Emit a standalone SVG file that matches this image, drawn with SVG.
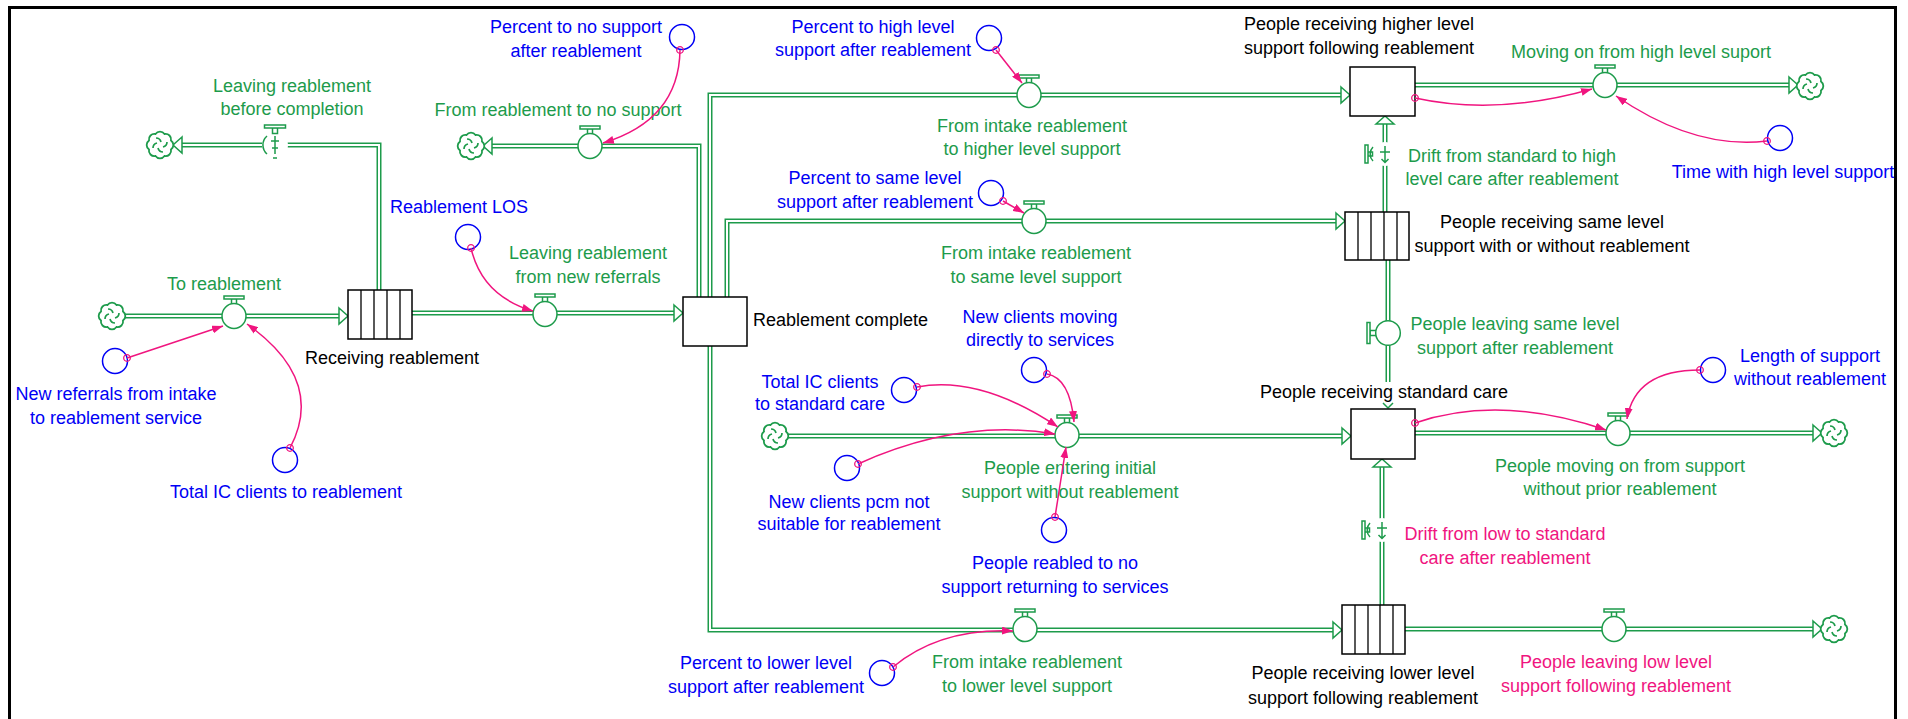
<svg xmlns="http://www.w3.org/2000/svg" xmlns:xlink="http://www.w3.org/1999/xlink" width="1908" height="719" viewBox="0 0 1908 719">
<style>
text{font-family:"Liberation Sans",Arial,sans-serif;font-size:18px;text-anchor:middle}
.tg{fill:#1d9b4b}.tb{fill:#0000f5}.tp{fill:#f0157f}.tk{fill:#000}
.po{fill:none;stroke:#1d9b4b;stroke-width:5}
.pi{fill:none;stroke:#fff;stroke-width:2}
.ah{fill:#fff;stroke:#1d9b4b;stroke-width:1.5;stroke-linejoin:miter}
.vf{fill:#fff;stroke:#1d9b4b;stroke-width:1.5}
.ln{fill:none;stroke:#1d9b4b;stroke-width:1.5}
.stk{fill:#fff;stroke:#000;stroke-width:1.5}
.aux{fill:none;stroke:#0000f5;stroke-width:1.5}
.lk{fill:none;stroke:#f0157f;stroke-width:1.5;marker-start:url(#dot);marker-end:url(#ah)}
</style>
<defs>
<marker id="ah" viewBox="0 0 11 8" refX="11" refY="4" markerWidth="11" markerHeight="8" markerUnits="userSpaceOnUse" orient="auto"><path d="M0,0 L11,4 L0,8 Z" fill="#f0157f"/></marker>
<marker id="dot" viewBox="-5 -5 10 10" refX="0" refY="0" markerWidth="10" markerHeight="10" markerUnits="userSpaceOnUse"><circle r="3.3" fill="none" stroke="#f0157f" stroke-width="1.3"/></marker>
<g id="vH"><rect x="-2.5" y="-17.5" width="5" height="6" class="vf"/><rect x="-10" y="-20" width="20" height="3" class="vf"/><ellipse rx="12" ry="12.5" class="vf"/></g>
<g id="vV"><rect x="-18" y="-2.5" width="7" height="5" class="vf"/><rect x="-21" y="-10.5" width="3" height="21" class="vf"/><circle r="12.3" class="vf"/></g>
<g id="dH"><circle r="13" fill="#fff"/><rect x="-2.5" y="-17.5" width="5" height="6" class="vf"/><rect x="-10.5" y="-20" width="21" height="3" class="vf"/><path d="M-8,-9 A12,12 0 0 0 -8,9" class="ln"/><path d="M0,-9 V9 M-4,-4 H4 M-3,3 H3 M-2,13 H2" class="ln"/></g>
<g id="dV"><circle r="12" fill="#fff"/><rect x="-17.5" y="-2" width="5" height="4" class="vf"/><rect x="-20" y="-9" width="3" height="18" class="vf"/><path d="M-12,-7 A10,10 0 0 0 -12,7" class="ln"/><path d="M0,-8 V9 M-5,-2 H5 M-3.5,5 L0,8.5 L3.5,5" class="ln"/></g>
<g id="cl"><path d="M-4.5,-11 a5.5,5.5 0 0 1 9,0 a5.5,5.5 0 0 1 6.5,6.5 a5.5,5.5 0 0 1 0,9 a5.5,5.5 0 0 1 -6.5,6.5 a5.5,5.5 0 0 1 -9,0 a5.5,5.5 0 0 1 -6.5,-6.5 a5.5,5.5 0 0 1 0,-9 a5.5,5.5 0 0 1 6.5,-6.5 z" fill="#fff" stroke="#1d9b4b" stroke-width="1.8"/><path d="M-4,-7 q4,0 5,4 M7,-3 q0,4 -4,5 M3,7 q-4,0 -5,-4 M-7,3 q0,-4 4,-5" fill="none" stroke="#1d9b4b" stroke-width="1.7"/></g>
<path id="p1" d="M123,316 H340"/>
<path id="p2" d="M412,313 H675"/>
<path id="p3" d="M379,290 V145 H181"/>
<path id="p4" d="M699,297 V146 H491"/>
<path id="p5" d="M710,297 V95 H1342"/>
<path id="p6" d="M727,297 V221 H1337"/>
<path id="p7" d="M710,346 V630 H1334"/>
<path id="p8" d="M786,436 H1343"/>
<path id="p9" d="M1415,85 H1790"/>
<path id="p10" d="M1385,212 V124"/>
<path id="p11" d="M1388,260 V382"/>
<path id="p12" d="M1382,605 V466"/>
<path id="p13" d="M1415,433 H1814"/>
<path id="p14" d="M1405,629 H1814"/>
</defs>
<rect x="9.5" y="7.5" width="1886" height="740" fill="#fff" stroke="#000" stroke-width="3"/>
<g id="connectors">
<g id="pipes">
<use xlink:href="#p1" class="po"/><use xlink:href="#p1" class="pi"/>
<use xlink:href="#p2" class="po"/><use xlink:href="#p2" class="pi"/>
<use xlink:href="#p3" class="po"/><use xlink:href="#p3" class="pi"/>
<use xlink:href="#p4" class="po"/><use xlink:href="#p4" class="pi"/>
<use xlink:href="#p5" class="po"/><use xlink:href="#p5" class="pi"/>
<use xlink:href="#p6" class="po"/><use xlink:href="#p6" class="pi"/>
<use xlink:href="#p7" class="po"/><use xlink:href="#p7" class="pi"/>
<use xlink:href="#p8" class="po"/><use xlink:href="#p8" class="pi"/>
<use xlink:href="#p9" class="po"/><use xlink:href="#p9" class="pi"/>
<use xlink:href="#p10" class="po"/><use xlink:href="#p10" class="pi"/>
<use xlink:href="#p11" class="po"/><use xlink:href="#p11" class="pi"/>
<use xlink:href="#p12" class="po"/><use xlink:href="#p12" class="pi"/>
<use xlink:href="#p13" class="po"/><use xlink:href="#p13" class="pi"/>
<use xlink:href="#p14" class="po"/><use xlink:href="#p14" class="pi"/>
</g>
<g id="pipe-arrows">
<path class="ah" d="M339,308 L348,316 L339,324 Z"/>
<path class="ah" d="M674,305 L683,313 L674,321 Z"/>
<path class="ah" d="M182,137 L173,145 L182,153 Z"/>
<path class="ah" d="M492,138 L483,146 L492,154 Z"/>
<path class="ah" d="M1341,87 L1350,95 L1341,103 Z"/>
<path class="ah" d="M1336,213 L1345,221 L1336,229 Z"/>
<path class="ah" d="M1333,622 L1342,630 L1333,638 Z"/>
<path class="ah" d="M1342,428 L1351,436 L1342,444 Z"/>
<path class="ah" d="M1789,77 L1798,85 L1789,93 Z"/>
<path class="ah" d="M1376,124 L1385,116 L1394,124 Z"/>
<path class="ln" d="M1383,403 L1388,408 L1393,403"/>
<path class="ah" d="M1373,467 L1382,459 L1391,467 Z"/>
<path class="ah" d="M1813,425 L1822,433 L1813,441 Z"/>
<path class="ah" d="M1813,621 L1822,629 L1813,637 Z"/>
</g>
</g>
<g id="cloud-1"><use xlink:href="#cl" x="112" y="316"/></g>
<g id="cloud-2"><use xlink:href="#cl" x="160" y="145"/></g>
<g id="cloud-3"><use xlink:href="#cl" x="471" y="146"/></g>
<g id="cloud-4"><use xlink:href="#cl" x="775" y="436"/></g>
<g id="cloud-5"><use xlink:href="#cl" x="1810" y="86"/></g>
<g id="cloud-6"><use xlink:href="#cl" x="1834" y="433"/></g>
<g id="cloud-7"><use xlink:href="#cl" x="1834" y="629"/></g>
<g id="stock-receiving-reablement">
<rect class="stk" x="348" y="290" width="64" height="49"/>
<path d="M361,290 V339 M374,290 V339 M387,290 V339 M400,290 V339" stroke="#000" stroke-width="1.3"/>
<text class="tk" x="392" y="364">Receiving reablement</text>
</g>
<g id="stock-reablement-complete">
<rect class="stk" x="683" y="297" width="64" height="49"/>
<text class="tk" x="753" y="326" style="text-anchor:start">Reablement complete</text>
</g>
<g id="stock-higher">
<rect class="stk" x="1350" y="67" width="65" height="49"/>
<text class="tk" x="1359" y="30">People receiving higher level</text>
<text class="tk" x="1359" y="54">support following reablement</text>
</g>
<g id="stock-same">
<rect class="stk" x="1345" y="212" width="64" height="48"/>
<path d="M1358,212 V260 M1371,212 V260 M1384,212 V260 M1397,212 V260" stroke="#000" stroke-width="1.3"/>
<text class="tk" x="1552" y="228">People receiving same level</text>
<text class="tk" x="1552" y="252">support with or without reablement</text>
</g>
<g id="stock-standard">
<rect class="stk" x="1351" y="409" width="64" height="50"/>
<text class="tk" x="1384" y="398">People receiving standard care</text>
</g>
<g id="stock-lower">
<rect class="stk" x="1342" y="605" width="63" height="49"/>
<path d="M1355,605 V654 M1368,605 V654 M1380,605 V654 M1393,605 V654" stroke="#000" stroke-width="1.3"/>
<text class="tk" x="1363" y="679">People receiving lower level</text>
<text class="tk" x="1363" y="704">support following reablement</text>
</g>
<g id="flow-to-reablement"><use xlink:href="#vH" x="234" y="316"/><text class="tg" x="224" y="290">To reablement</text></g>
<g id="flow-leaving-from-new-referrals"><use xlink:href="#vH" x="545" y="314"/><text class="tg" x="588" y="259">Leaving reablement</text><text class="tg" x="588" y="283">from new referrals</text></g>
<g id="flow-leaving-before-completion"><use xlink:href="#dH" x="275" y="145"/><text class="tg" x="292" y="92">Leaving reablement</text><text class="tg" x="292" y="115">before completion</text></g>
<g id="flow-to-no-support"><use xlink:href="#vH" x="590" y="146"/><text class="tg" x="558" y="116">From reablement to no support</text></g>
<g id="flow-to-higher"><use xlink:href="#vH" x="1029" y="95"/><text class="tg" x="1032" y="132">From intake reablement</text><text class="tg" x="1032" y="155">to higher level support</text></g>
<g id="flow-to-same"><use xlink:href="#vH" x="1034" y="221"/><text class="tg" x="1036" y="259">From intake reablement</text><text class="tg" x="1036" y="283">to same level support</text></g>
<g id="flow-to-lower"><use xlink:href="#vH" x="1025" y="629"/><text class="tg" x="1027" y="668">From intake reablement</text><text class="tg" x="1027" y="692">to lower level support</text></g>
<g id="flow-entering-initial"><use xlink:href="#vH" x="1067" y="435"/><text class="tg" x="1070" y="474">People entering initial</text><text class="tg" x="1070" y="498">support without reablement</text></g>
<g id="flow-moving-on-high"><use xlink:href="#vH" x="1605" y="85"/><text class="tg" x="1641" y="58">Moving on from high level suport</text></g>
<g id="flow-drift-high"><use xlink:href="#dV" x="1385" y="154"/><text class="tg" x="1512" y="162">Drift from standard to high</text><text class="tg" x="1512" y="185">level care after reablement</text></g>
<g id="flow-leaving-same"><use xlink:href="#vV" x="1388" y="333"/><text class="tg" x="1515" y="330">People leaving same level</text><text class="tg" x="1515" y="354">support after reablement</text></g>
<g id="flow-drift-low"><use xlink:href="#dV" x="1382" y="530"/><text class="tp" x="1505" y="540">Drift from low to standard</text><text class="tp" x="1505" y="564">care after reablement</text></g>
<g id="flow-moving-on-standard"><use xlink:href="#vH" x="1618" y="433"/><text class="tg" x="1620" y="472">People moving on from support</text><text class="tg" x="1620" y="495">without prior reablement</text></g>
<g id="flow-leaving-low"><use xlink:href="#vH" x="1614" y="629"/><text class="tp" x="1616" y="668">People leaving low level</text><text class="tp" x="1616" y="692">support following reablement</text></g>
<g id="aux-percent-no-support"><circle class="aux" cx="682" cy="37" r="12.5"/><text class="tb" x="576" y="33">Percent to no support</text><text class="tb" x="576" y="57">after reablement</text></g>
<g id="aux-reablement-los"><circle class="aux" cx="468" cy="237" r="12.5"/><text class="tb" x="459" y="213">Reablement LOS</text></g>
<g id="aux-new-referrals"><circle class="aux" cx="115" cy="361" r="12.5"/><text class="tb" x="116" y="400">New referrals from intake</text><text class="tb" x="116" y="424">to reablement service</text></g>
<g id="aux-total-ic-reablement"><circle class="aux" cx="285" cy="460" r="12.5"/><text class="tb" x="286" y="498">Total IC clients to reablement</text></g>
<g id="aux-percent-high"><circle class="aux" cx="989" cy="38" r="12.5"/><text class="tb" x="873" y="33">Percent to high level</text><text class="tb" x="873" y="56">support after reablement</text></g>
<g id="aux-percent-same"><circle class="aux" cx="991" cy="193" r="12.5"/><text class="tb" x="875" y="184">Percent to same level</text><text class="tb" x="875" y="208">support after reablement</text></g>
<g id="aux-time-high"><circle class="aux" cx="1780" cy="138" r="12.5"/><text class="tb" x="1783" y="178">Time with high level support</text></g>
<g id="aux-length-support"><circle class="aux" cx="1713" cy="370" r="12.5"/><text class="tb" x="1810" y="362">Length of support</text><text class="tb" x="1810" y="385">without reablement</text></g>
<g id="aux-total-ic-standard"><circle class="aux" cx="904" cy="390" r="12.5"/><text class="tb" x="820" y="388">Total IC clients</text><text class="tb" x="820" y="410">to standard care</text></g>
<g id="aux-new-clients-direct"><circle class="aux" cx="1034" cy="370" r="12.5"/><text class="tb" x="1040" y="323">New clients moving</text><text class="tb" x="1040" y="346">directly to services</text></g>
<g id="aux-new-clients-pcm"><circle class="aux" cx="847" cy="468" r="12.5"/><text class="tb" x="849" y="508">New clients pcm not</text><text class="tb" x="849" y="530">suitable for reablement</text></g>
<g id="aux-people-reabled"><circle class="aux" cx="1054" cy="530" r="12.5"/><text class="tb" x="1055" y="569">People reabled to no</text><text class="tb" x="1055" y="593">support returning to services</text></g>
<g id="aux-percent-lower"><circle class="aux" cx="882" cy="673" r="12.5"/><text class="tb" x="766" y="669">Percent to lower level</text><text class="tb" x="766" y="693">support after reablement</text></g>
<g id="links">
<path class="lk" d="M680,50 Q679,120 603,143"/>
<path class="lk" d="M471,248 Q482,296 533,311"/>
<path class="lk" d="M127,358 L223,326"/>
<path class="lk" d="M290,448 Q326,380 247,324"/>
<path class="lk" d="M996,50 L1022,83"/>
<path class="lk" d="M1003,201 L1024,213"/>
<path class="lk" d="M1415,98 Q1497,116 1592,89"/>
<path class="lk" d="M1767,141 Q1695,150 1616,96"/>
<path class="lk" d="M1700,370 Q1635,370 1627,419"/>
<path class="lk" d="M1415,423 Q1500,394 1606,430"/>
<path class="lk" d="M917,387 Q980,375 1058,427"/>
<path class="lk" d="M1047,374 Q1070,378 1074,422"/>
<path class="lk" d="M858,464 Q960,418 1055,434"/>
<path class="lk" d="M1055,517 L1066,447"/>
<path class="lk" d="M893,667 Q940,628 1013,631"/>
</g>
</svg>
